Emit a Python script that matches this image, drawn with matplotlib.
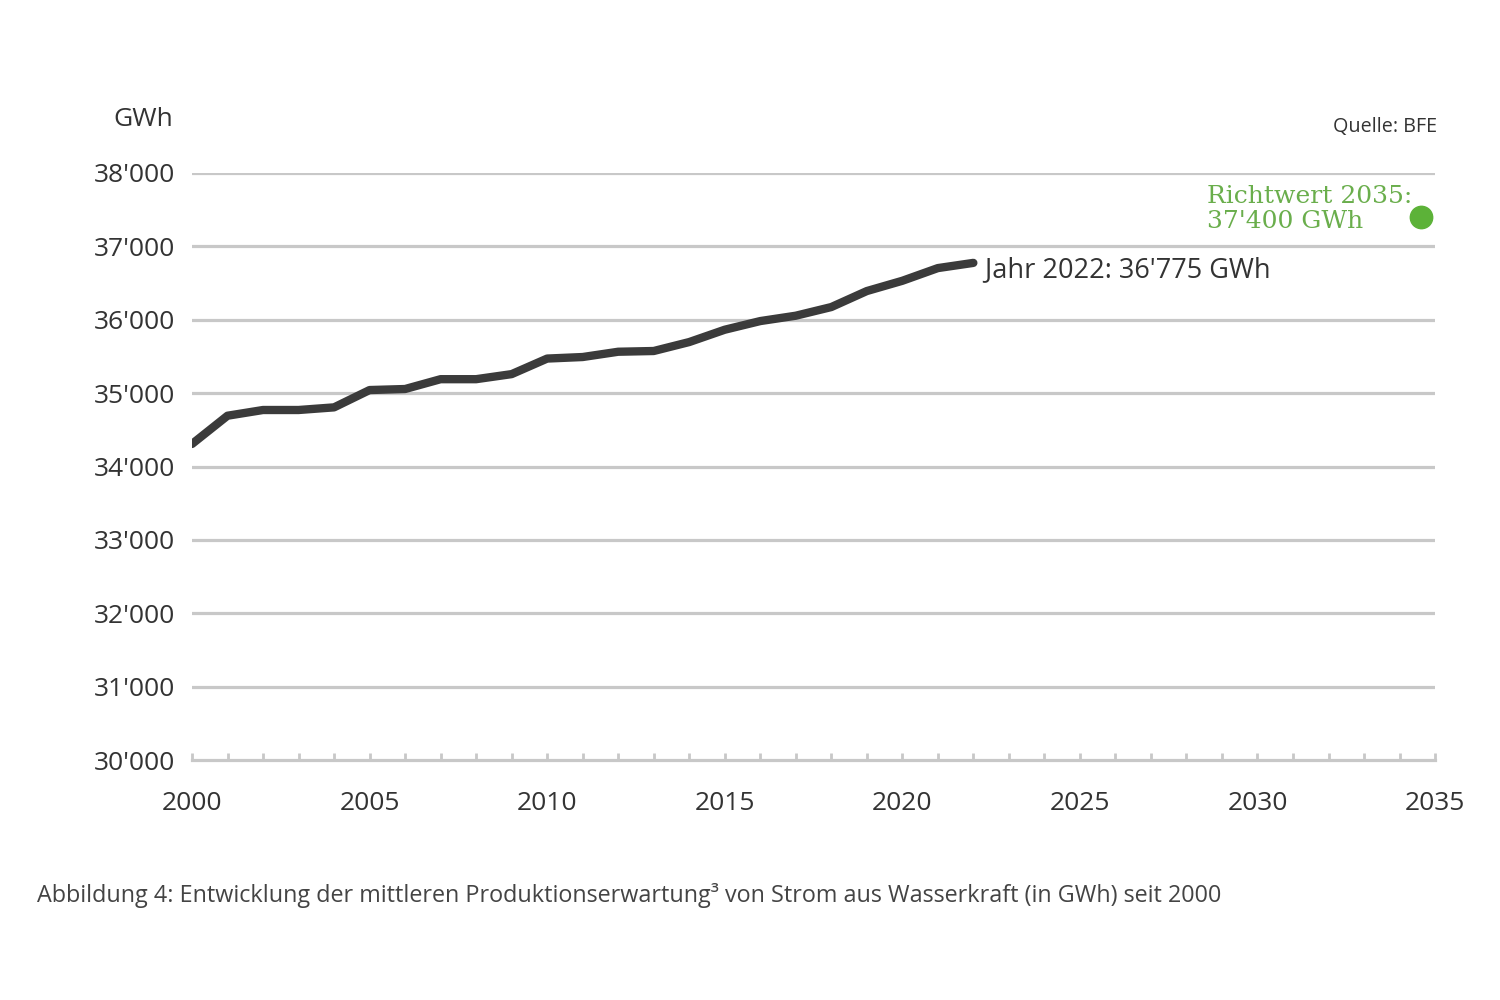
import matplotlib
matplotlib.use("Agg")
import matplotlib.pyplot as plt
from matplotlib.ticker import FixedLocator, MultipleLocator, FuncFormatter
import matplotlib.transforms as mtransforms

years = list(range(2000, 2023))
values = [34307, 34692, 34770, 34770, 34806, 35042, 35056, 35190, 35190, 35259,
          35471, 35492, 35564, 35574, 35696, 35864, 35982, 36055, 36173, 36391,
          36531, 36704, 36775]
target_year = [2035]
target_value = [37400]
y_ticks = [30000, 31000, 32000, 33000, 34000, 35000, 36000, 37000, 38000]
x_ticks = [2000, 2005, 2010, 2015, 2020, 2025, 2030, 2035]

plt.rcParams['font.family'] = ['Open Sans', 'DejaVu Sans']
TXT = '#333333'
GRID = '#c8c8c8'

fig = plt.figure(figsize=(15, 10), dpi=100)
ax = fig.add_axes([0.128, 0.24, 0.9567 - 0.128, 0.827 - 0.24])

for v in y_ticks[1:]:
    ax.axhline(v, color=GRID, lw=2.3, zorder=1)

ax.plot(years, values, color='#3b3b3b', lw=6, solid_capstyle='round',
        solid_joinstyle='round', zorder=3)

off = mtransforms.offset_copy(ax.transData, fig=fig, x=-14, y=0, units='dots')
ax.scatter(target_year, target_value, s=260, color='#5cb238', zorder=4,
           transform=off, clip_on=False)

ax.set_xlim(2000, 2035)
ax.set_ylim(30000, 38000)
ax.xaxis.set_major_locator(FixedLocator(x_ticks))
ax.xaxis.set_minor_locator(MultipleLocator(1))
ax.yaxis.set_major_locator(FixedLocator(y_ticks))
ax.yaxis.set_major_formatter(FuncFormatter(lambda v, p: f"{int(v):,}".replace(",", "'")))

for s in ['top', 'right', 'left']:
    ax.spines[s].set_visible(False)
ax.spines['bottom'].set_color(GRID)
ax.spines['bottom'].set_linewidth(2.3)

ax.tick_params(axis='x', which='both', direction='in', length=5, width=2,
               color=GRID, labelsize=19, labelcolor=TXT, pad=22)
ax.tick_params(axis='y', length=0, labelsize=19, labelcolor=TXT, pad=12.5)

ax.text(years[-1], values[-1], "  Jahr 2022: 36'775 GWh", fontsize=19.5, color=TXT,
        ha='left', va='center', transform=mtransforms.offset_copy(
            ax.transData, fig=fig, x=-2, y=-7, units='dots'))

fig.text(1207 / 1500, 1 - 209 / 1000, "Richtwert 2035:\n37'400 GWh", fontsize=18,
         color='#6aae4c', family='DejaVu Serif', ha='left', va='center',
         multialignment='left', linespacing=1.12)

fig.text(113 / 1500, 1 - 120 / 1000, "GWh", fontsize=19, color=TXT,
         ha='left', va='center')
fig.text(1437 / 1500, 1 - 127 / 1000, "Quelle: BFE", fontsize=14.2, color=TXT,
         ha='right', va='center')
fig.text(37 / 1500, 1 - 895 / 1000,
         "Abbildung 4: Entwicklung der mittleren Produktionserwartung³ von Strom aus Wasserkraft (in GWh) seit 2000",
         fontsize=16.8, color='#444444', ha='left', va='center')

fig.savefig('out.png', dpi=100, facecolor='white')
